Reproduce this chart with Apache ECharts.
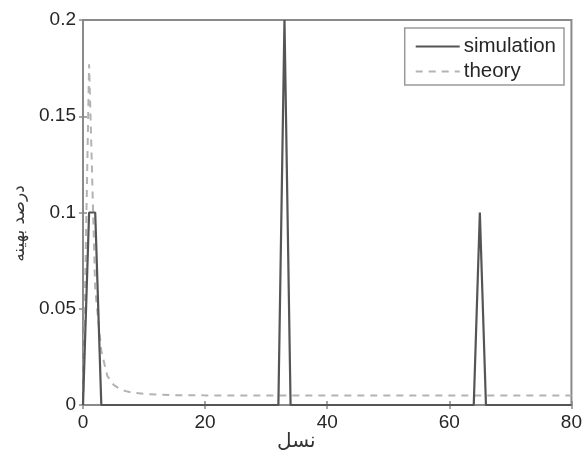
<!DOCTYPE html>
<html>
<head>
<meta charset="utf-8">
<script src="https://cdn.jsdelivr.net/npm/echarts@6/dist/echarts.min.js"></script>
<style>
  html, body { margin: 0; padding: 0; background: #fff; }
  #chart { width: 585px; height: 453px; }
</style>
</head>
<body>
<div id="chart"></div>
<script>
// Generation index (x) and fraction of optimal solutions (y)
const simX = [0, 1, 2, 3, 32, 33, 34, 64, 65, 66, 80];
const simY = [0, 0.1, 0.1, 0, 0, 0.2, 0, 0, 0.1, 0, 0];

const theoryX = [0, 1, 2, 3, 4, 5, 6, 7, 8, 10, 12, 15, 20, 30, 40, 50, 60, 70, 80];
const theoryY = [0, 0.177, 0.06, 0.028, 0.015, 0.0105, 0.0085, 0.0072, 0.0065, 0.0058, 0.0054, 0.0051, 0.005, 0.005, 0.005, 0.005, 0.005, 0.005, 0.005];

const xTicks = [0, 20, 40, 60, 80];
const yTicks = [0, 0.05, 0.1, 0.15, 0.2];

const seriesNames = ['simulation', 'theory'];
const xLabel = 'نسل';
const yLabel = 'درصد بهینه';

const pairs = (xs, ys) => xs.map((x, i) => [x, ys[i]]);

const labelFont = { fontFamily: 'Liberation Sans, Arial, sans-serif', fontSize: 19, color: '#262626' };
const boxColor = '#8a8a8a';
const tick = { show: true, inside: true, length: 4, lineStyle: { color: boxColor, width: 1.5 } };

const chart = echarts.init(document.getElementById('chart'), null, { renderer: 'canvas' });

chart.setOption({
  animation: false,
  backgroundColor: '#fff',
  grid: { left: 83, right: 10, top: 20, bottom: 48, show: true, borderColor: boxColor, borderWidth: 2, backgroundColor: 'transparent' },
  legend: {
    data: seriesNames,
    orient: 'vertical',
    right: 21,
    top: 28,
    itemWidth: 44,
    itemHeight: 14,
    itemGap: 4,
    padding: [8, 8, 3, 10],
    borderColor: '#9a9a9a',
    borderWidth: 1.5,
    backgroundColor: '#fff',
    itemStyle: { opacity: 0 },
    textStyle: { fontFamily: 'Liberation Sans, Arial, sans-serif', fontSize: 20.5, color: '#262626', padding: [0, 0, 0, -1] }
  },
  xAxis: [{
    type: 'value',
    min: 0, max: 80, interval: 20,
    axisLine: { show: false },
    axisTick: tick,
    axisLabel: Object.assign({ margin: 8, formatter: v => xTicks.includes(v) ? String(v) : '' }, labelFont),
    splitLine: { show: false }
  }, {
    type: 'value', position: 'top',
    min: 0, max: 80, interval: 20,
    axisLine: { show: false },
    axisTick: tick,
    axisLabel: { show: false },
    splitLine: { show: false }
  }],
  yAxis: [{
    type: 'value',
    min: 0, max: 0.2, interval: 0.05,
    name: yLabel,
    nameLocation: 'middle',
    nameRotate: 90,
    nameGap: 54,
    nameTextStyle: { fontFamily: 'DejaVu Sans, Noto Sans, sans-serif', fontSize: 17, color: '#333', padding: [0, 22, 0, 0] },
    axisLine: { show: false },
    axisTick: tick,
    axisLabel: Object.assign({ margin: 7, formatter: v => {
      const t = yTicks.find(y => Math.abs(y - v) < 1e-9);
      return t === undefined ? '' : String(+t.toFixed(2));
    } }, labelFont),
    splitLine: { show: false }
  }, {
    type: 'value', position: 'right',
    min: 0, max: 0.2, interval: 0.05,
    axisLine: { show: false },
    axisTick: tick,
    axisLabel: { show: false },
    splitLine: { show: false }
  }],
  graphic: [{
    type: 'text',
    left: 277,
    top: 432,
    style: { text: xLabel, font: '20px "DejaVu Sans", "Noto Sans", sans-serif', fill: '#333' }
  }],
  series: [{
    name: seriesNames[0],
    type: 'line',
    data: pairs(simX, simY),
    showSymbol: false,
    symbol: 'none',
    lineStyle: { color: '#555', width: 2.2 },
    itemStyle: { color: '#555' },
    z: 3
  }, {
    name: seriesNames[1],
    type: 'line',
    data: pairs(theoryX, theoryY),
    showSymbol: false,
    symbol: 'none',
    lineStyle: { color: '#b3b3b3', width: 2, type: [7, 6] },
    itemStyle: { color: '#b3b3b3' },
    z: 2
  }]
});
</script>
</body>
</html>
